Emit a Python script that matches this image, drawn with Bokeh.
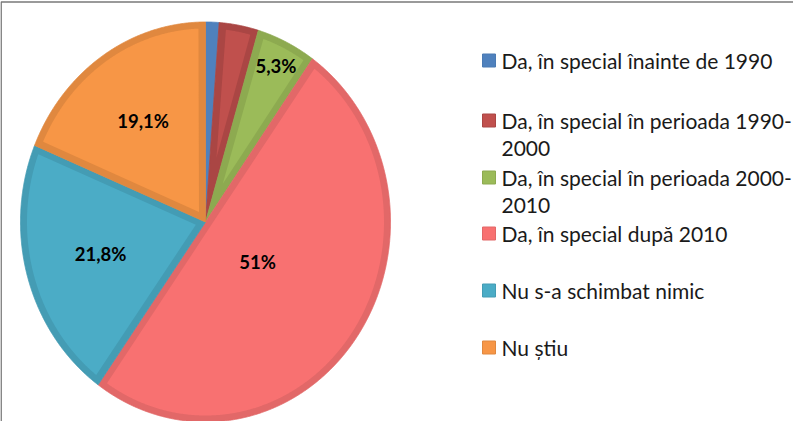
import numpy as np
from bokeh.plotting import figure
from bokeh.models import Range1d
from bokeh.core.properties import value
from bokeh.embed import file_html
from bokeh.resources import INLINE

# ---------------- data ----------------
categories = [
    "Da, în special înainte de 1990",
    "Da, în special în perioada 1990-\n2000",
    "Da, în special în perioada 2000-\n2010",
    "Da, în special după 2010",
    "Nu s-a schimbat nimic",
    "Nu știu",
]
values = [1.2, 3.5, 5.3, 51.0, 21.8, 19.1]
show_label = [False, False, True, True, True, True]

# ---------------- styles / layout ----------------
fill_colors = ["#4F81BD", "#C0504D", "#9BBB59", "#F87171", "#4BACC6", "#F79646"]
edge_colors = ["#4A7AB3", "#AA4644", "#8DAA50", "#E26868", "#449CB4", "#E0883F"]
label_radius = [0.0, 0.0, 0.87, 0.345, 0.59, 0.607]
legend_y = [68, 128, 185, 241, 298, 355]

W, H = 793, 421
CX, CY, RX, RY = 213.0, 229.5, 185.0, 200.0
INSET = 6.5

p = figure(width=W, height=H, output_backend="svg", toolbar_location=None,
           x_range=Range1d(8, 8 + W), y_range=Range1d(8 + H, 8),
           x_axis_type=None, y_axis_type=None, min_border=0)
p.grid.visible = False
p.outline_line_color = None
p.background_fill_color = "white"
p.border_fill_color = "white"


def ell(theta, s=0.0):
    return CX + (RX - s) * np.sin(theta), CY - (RY - s) * np.cos(theta)


def dist_ray(qx, qy, u):
    t = qx * u[0] + qy * u[1]
    perp = np.abs(qx * u[1] - qy * u[0])
    return np.where(t > 0, perp, np.hypot(qx, qy))


vals = np.array(values, dtype=float)
frac = vals / vals.sum()
cum = np.concatenate([[0.0], np.cumsum(frac)]) * 2 * np.pi

outer_xs, outer_ys, outer_c = [], [], []
inner_xs, inner_ys, inner_c = [], [], []
for i in range(len(vals)):
    a0, a1 = cum[i], cum[i + 1]
    n = max(int((a1 - a0) / (2 * np.pi) * 1440), 6)
    th = np.linspace(a0, a1, n)
    ox, oy = ell(th)
    outer_xs.append(np.concatenate([[CX], ox]).tolist())
    outer_ys.append(np.concatenate([[CY], oy]).tolist())

    # inset polygon
    p0 = np.array(ell(a0)) - [CX, CY]
    p1 = np.array(ell(a1)) - [CX, CY]
    u0 = p0 / np.linalg.norm(p0)
    u1 = p1 / np.linalg.norm(p1)
    t0 = np.array([RX * np.cos(a0), RY * np.sin(a0)])
    t1 = -np.array([RX * np.cos(a1), RY * np.sin(a1)])
    n0 = np.array([-u0[1], u0[0]])
    if n0 @ t0 < 0:
        n0 = -n0
    n1 = np.array([-u1[1], u1[0]])
    if n1 @ t1 < 0:
        n1 = -n1
    b = n0 + n1
    ok = np.linalg.norm(b) > 1e-9
    kept = None
    if ok:
        b = b / np.linalg.norm(b)
        cosa = b @ n0
        if cosa > 1e-3:
            apex = b * INSET / cosa
            if np.linalg.norm(apex) < min(RX, RY) * 0.8:
                ix, iy = ell(th, INSET)
                qx, qy = ix - CX, iy - CY
                m = (dist_ray(qx, qy, u0) >= INSET) & (dist_ray(qx, qy, u1) >= INSET)
                if m.sum() >= 2:
                    kept = (np.concatenate([[CX + apex[0]], ix[m]]),
                            np.concatenate([[CY + apex[1]], iy[m]]))
    if kept is None:
        outer_c.append(fill_colors[i])
    else:
        outer_c.append(edge_colors[i])
        inner_xs.append(kept[0].tolist())
        inner_ys.append(kept[1].tolist())
        inner_c.append(fill_colors[i])

p.patches(xs=outer_xs, ys=outer_ys, fill_color=outer_c, line_color=outer_c, line_width=0.8)
p.patches(xs=inner_xs, ys=inner_ys, fill_color=inner_c, line_color=None)

# data labels
lx, ly, lt = [], [], []
for i in range(len(vals)):
    if not show_label[i]:
        continue
    mid = (cum[i] + cum[i + 1]) / 2
    f = label_radius[i]
    lx.append(CX + RX * f * np.sin(mid))
    ly.append(CY - RY * f * np.cos(mid))
    s = f"{values[i]:.1f}"
    if s.endswith(".0"):
        s = s[:-2]
    lt.append(s.replace(".", ",") + "%")
p.text(x=lx, y=ly, text=lt, text_font=value("Lato"), text_font_size="18.5px",
       text_font_style="bold", text_color="#000000",
       text_align="center", text_baseline="middle")

# legend
sq_x = [496.5] * len(categories)
p.scatter(x=sq_x, y=legend_y, marker="square", size=13,
          fill_color=fill_colors, line_color=edge_colors, line_width=1)
tx, ty, tt = [], [], []
for i, cat in enumerate(categories):
    for j, line in enumerate(cat.split("\n")):
        tx.append(509)
        ty.append(legend_y[i] + 28 * j)
        tt.append(line)
p.text(x=tx, y=ty, text=tt, text_font=value("Lato"), text_font_size="21px",
       text_color="#1a1a1a", text_align="left", text_baseline="middle")

# frame (top and left edges)
p.line(x=[8 + W, 8.6, 8.6], y=[9.5, 9.5, 8 + H], line_color="#7a7a7a", line_width=1.6)

open("out.html", "w").write(file_html(p, INLINE))
